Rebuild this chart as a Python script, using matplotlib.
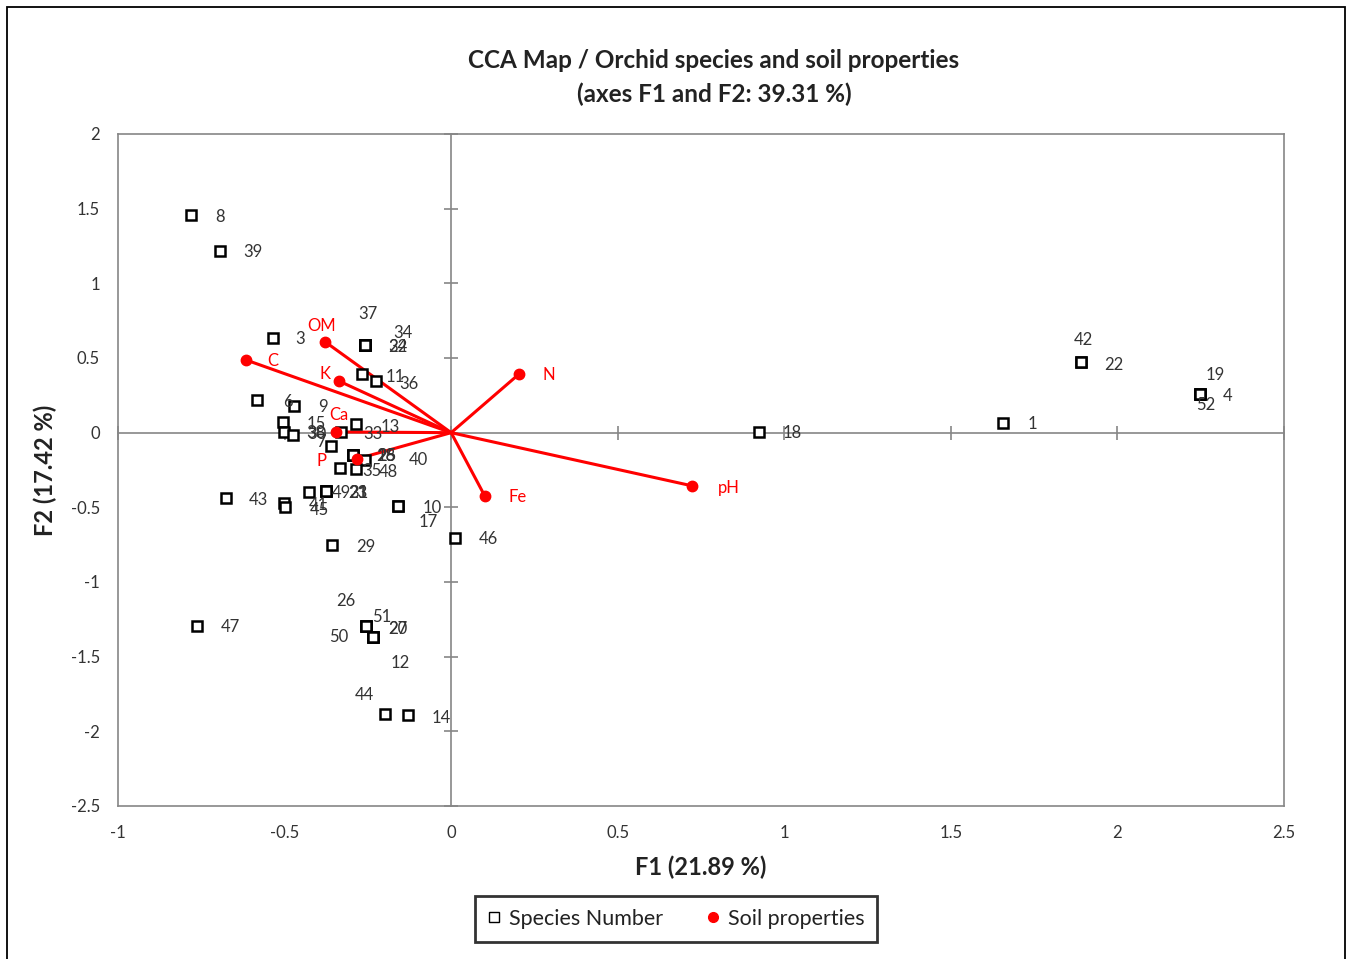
import matplotlib
matplotlib.use("Agg")
import matplotlib.pyplot as plt
from matplotlib.lines import Line2D
from matplotlib.patches import Rectangle

plt.rcParams['font.family'] = ['Lato', 'DejaVu Sans']

# Species scores on the first two CCA axes (several species share a position)
species_labels = ['8', '39', '3', '37', '34', '32', '24', '11', '36', '6', '9', '15',
                  '38', '30', '7', '13', '33', '28', '16', '25', '40', '35', '48', '43',
                  '41', '45', '49', '23', '21', '31', '10', '17', '46', '29', '47',
                  '26', '51', '27', '50', '20', '12', '44', '14', '18', '1', '42', '22',
                  '19', '4', '52']
species_f1 = [-0.781, -0.694, -0.535, -0.258, -0.258, -0.258, -0.258, -0.267, -0.225,
              -0.583, -0.471, -0.505, -0.502, -0.475, -0.360, -0.285, -0.330, -0.294,
              -0.294, -0.294, -0.258, -0.333, -0.285, -0.676, -0.502, -0.499, -0.427,
              -0.376, -0.376, -0.376, -0.160, -0.160, 0.012, -0.358, -0.763, -0.255,
              -0.255, -0.255, -0.234, -0.234, -0.234, -0.198, -0.129, 0.924, 1.657,
              1.891, 1.891, 2.248, 2.248, 2.248]
species_f2 = [1.457, 1.217, 0.634, 0.587, 0.587, 0.587, 0.587, 0.394, 0.347, 0.219,
              0.179, 0.072, 0.005, -0.015, -0.089, 0.058, 0.005, -0.149, -0.149, -0.149,
              -0.183, -0.236, -0.243, -0.437, -0.471, -0.498, -0.397, -0.390, -0.390,
              -0.390, -0.491, -0.491, -0.705, -0.755, -1.295, -1.295, -1.295, -1.295,
              -1.369, -1.369, -1.369, -1.884, -1.891, 0.005, 0.065, 0.473, 0.473,
              0.258, 0.258, 0.258]

# Soil property vectors
soil_labels = ['OM', 'C', 'K', 'Ca', 'P', 'N', 'Fe', 'pH']
soil_f1 = [-0.378, -0.616, -0.337, -0.346, -0.283, 0.204, 0.101, 0.723]
soil_f2 = [0.608, 0.487, 0.346, 0.005, -0.176, 0.393, -0.424, -0.356]

# Label placement (pixel offsets right / down from the marker)
species_offsets = {
    '8': (29, 2), '39': (33, 1), '3': (27, 1), '37': (3, -31), '34': (38, -12),
    '32': (33, 2), '24': (33, 2), '11': (33, 3), '36': (33, 3), '6': (31, 2),
    '9': (29, 1), '15': (33, 2), '38': (32, 1), '30': (24, -1), '7': (-10, -4),
    '13': (34, 3), '33': (32, 2), '28': (33, 1), '16': (33, 1), '25': (34, 1),
    '40': (53, 0), '35': (32, 3), '48': (32, 3), '43': (32, 2), '41': (34, 2),
    '45': (34, 3), '49': (32, 1), '23': (32, 2), '21': (32, 2), '31': (33, 2),
    '10': (34, 2), '17': (30, 16), '46': (33, 1), '29': (34, 2), '47': (33, 1),
    '26': (-20, -25), '51': (16, -9), '27': (32, 3), '50': (-34, 0), '20': (25, -8),
    '12': (27, 26), '44': (-21, -19), '14': (33, 3), '18': (33, 1), '1': (29, 1),
    '42': (2, -22), '22': (33, 3), '19': (15, -19), '4': (28, 2), '52': (6, 11),
}
soil_offsets = {
    'OM': (-4, -16), 'C': (27, 1), 'K': (-14, -7), 'Ca': (3, -17),
    'P': (-35, 2), 'N': (30, 1), 'Fe': (33, 1), 'pH': (37, 2),
}

W, H, DPI = 1346, 959, 100
PT = 72.0 / DPI
GRAY = '#868686'
TXT = '#333333'
RED = '#FF0000'

fig = plt.figure(figsize=(W / DPI, H / DPI), dpi=DPI)
rect = [118 / W, 1 - 806 / H, (1284 - 118) / W, (806 - 134) / H]
ax = fig.add_axes(rect)
ax.set_xlim(-1, 2.5)
ax.set_ylim(-2.5, 2)
for s in ax.spines.values():
    s.set_color(GRAY)
    s.set_linewidth(1.2)
ax.set_xticks([-1, -0.5, 0, 0.5, 1, 1.5, 2, 2.5])
ax.set_yticks([-2.5, -2, -1.5, -1, -0.5, 0, 0.5, 1, 1.5, 2])
ax.set_xticklabels(['-1', '-0.5', '0', '0.5', '1', '1.5', '2', '2.5'])
ax.set_yticklabels(['-2.5', '-2', '-1.5', '-1', '-0.5', '0', '0.5', '1', '1.5', '2'])
ax.tick_params(axis='x', length=0, pad=14, labelsize=12, labelcolor=TXT)
ax.tick_params(axis='y', length=0, pad=13, labelsize=12, labelcolor=TXT)
ax.set_xlabel('F1 (21.89 %)', fontsize=17, fontweight='bold', color='#222222', labelpad=10)
ax.set_ylabel('F2 (17.42 %)', fontsize=17, fontweight='bold', color='#222222', labelpad=10)

# Axes crossing at the origin, with tick marks but no labels
ax0 = fig.add_axes(rect, sharex=ax, sharey=ax, frameon=True)
ax0.patch.set_visible(False)
for side in ('top', 'right'):
    ax0.spines[side].set_visible(False)
ax0.spines['left'].set_position(('data', 0))
ax0.spines['bottom'].set_position(('data', 0))
for side in ('left', 'bottom'):
    ax0.spines[side].set_color(GRAY)
    ax0.spines[side].set_linewidth(1.2)
ax0.tick_params(direction='inout', length=10, width=1.2, color=GRAY,
                labelbottom=False, labelleft=False)
ax0.set_zorder(0)
ax.set_zorder(1)
ax.patch.set_visible(False)

# Soil property arrows from the origin
for f1, f2 in zip(soil_f1, soil_f2):
    ax.plot([0, f1], [0, f2], color=RED, lw=2.2, solid_capstyle='round', zorder=2)

ax.plot(species_f1, species_f2, ls='none', marker='s', ms=6.5, mfc='white',
        mec='black', mew=1.8, zorder=3)
ax.plot(soil_f1, soil_f2, ls='none', marker='o', ms=7.5, mfc=RED, mec=RED, zorder=4)

for lab, f1, f2 in zip(species_labels, species_f1, species_f2):
    dx, dy = species_offsets[lab]
    ax.annotate(lab, (f1, f2), xytext=(dx * PT, -dy * PT), textcoords='offset points',
                ha='center', va='center', fontsize=12, color=TXT, zorder=5)
for lab, f1, f2 in zip(soil_labels, soil_f1, soil_f2):
    dx, dy = soil_offsets[lab]
    ax.annotate(lab, (f1, f2), xytext=(dx * PT, -dy * PT), textcoords='offset points',
                ha='center', va='center', fontsize=12, color=RED, zorder=5)

fig.text(714 / W, 1 - 61 / H, 'CCA Map / Orchid species and soil properties',
         ha='center', va='center', fontsize=17.5, fontweight='bold', color='#222222')
fig.text(714 / W, 1 - 94 / H, '(axes F1 and F2: 39.31 %)',
         ha='center', va='center', fontsize=17.5, fontweight='bold', color='#222222')

handles = [
    Line2D([], [], ls='none', marker='s', ms=6.5, mfc='white', mec='black', mew=1.0),
    Line2D([], [], ls='none', marker='o', ms=7, mfc=RED, mec=RED),
]
leg = fig.legend(handles, ['Species Number', 'Soil properties'], loc='center',
                 bbox_to_anchor=(676 / W, 1 - 919 / H), ncol=2, fontsize=15.5,
                 frameon=True, fancybox=False, edgecolor='black', handlelength=0.6,
                 handletextpad=0.4, columnspacing=2.0, borderpad=0.6, borderaxespad=0)
leg.get_frame().set_linewidth(2.0)
for t in leg.get_texts():
    t.set_color('#222222')

# Outer border of the figure
fig.patches.append(Rectangle((7 / W, -0.02), (1345 - 7) / W, 1 - 7 / H + 0.02,
                             transform=fig.transFigure, fill=False, ec='black', lw=1.3))

fig.savefig('out.png', dpi=DPI)
